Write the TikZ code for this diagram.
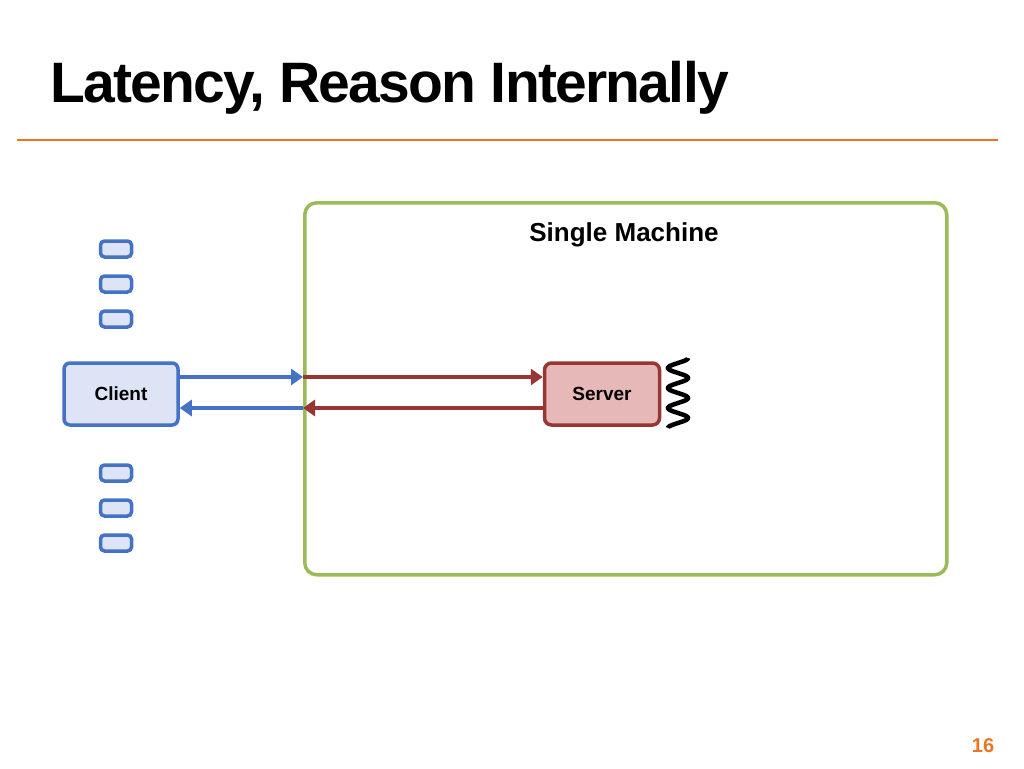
\documentclass[tikz,border=0pt]{standalone}
\usepackage{fontspec}
\setmainfont{Liberation Sans}
\usetikzlibrary{arrows.meta}
\begin{document}
\begin{tikzpicture}[x=1pt,y=-1pt,
  blu/.style={draw=bluB, fill=bluF, line width=3.5pt, rounded corners=6pt},
  redb/.style={draw=redB, fill=redF, line width=3.5pt, rounded corners=7pt},
  sq/.style={blu, minimum width=31pt, minimum height=16pt, inner sep=0pt, line width=3.5pt, rounded corners=4pt},
  ba/.style={draw=bluB, line width=3.5pt, -{Triangle[length=12pt,width=16pt]}},
  ra/.style={draw=redB, line width=3.5pt, -{Triangle[length=12pt,width=16pt]}}]
\definecolor{org}{RGB}{232,118,34}
\definecolor{bluB}{RGB}{68,114,196}
\definecolor{bluF}{RGB}{220,228,245}
\definecolor{redB}{RGB}{150,55,52}
\definecolor{redF}{RGB}{230,184,183}
\definecolor{grn}{RGB}{155,187,89}
\useasboundingbox (0,0) rectangle (1024,768);
\node[anchor=base west, font=\bfseries\fontsize{57}{60}\selectfont, inner sep=0pt] (title) at (50,102) {\addfontfeature{LetterSpace=-3}Latency, Reason Internally};
\draw[org, line width=2.5pt] (17,140) coordinate (l1) -- (998,140) coordinate (l2);
\node[draw=grn, line width=3.5pt, rounded corners=12pt, minimum width=642pt, minimum height=372pt, anchor=north west] (m) at (303,201) {};
\node[font=\bfseries\fontsize{26}{28}\selectfont] (ml) at (624,235) {Single Machine};
\node[blu, minimum width=114pt, minimum height=62pt] (c) at (121,394) {\bfseries\fontsize{19}{21}\selectfont Client};
\node[redb, minimum width=115pt, minimum height=62pt] (s) at (602,394) {\bfseries\fontsize{19}{21}\selectfont Server};
\foreach \i/\y in {1/249,2/284,3/319,4/473,5/508,6/543} \node[sq] (q\i) at (116,\y) {};
\coordinate (p1) at (303,377); \coordinate (p2) at (303,408);
\draw[ba] (c.east|-p1) -- (p1);
\draw[ra] (p1) -- (s.west|-p1);
\draw[ra] (s.west|-p2) -- (p2);
\draw[ba] (p2) -- (c.east|-p2);
\draw[line width=4.5pt, domain=0:1, samples=120, smooth] plot ({678+10*sin(\x*3.5*360+90)}, {358+70*\x});
\node[org, font=\bfseries\fontsize{20}{22}\selectfont] (pg) at (983,746) {16};
\end{tikzpicture}
\end{document}
